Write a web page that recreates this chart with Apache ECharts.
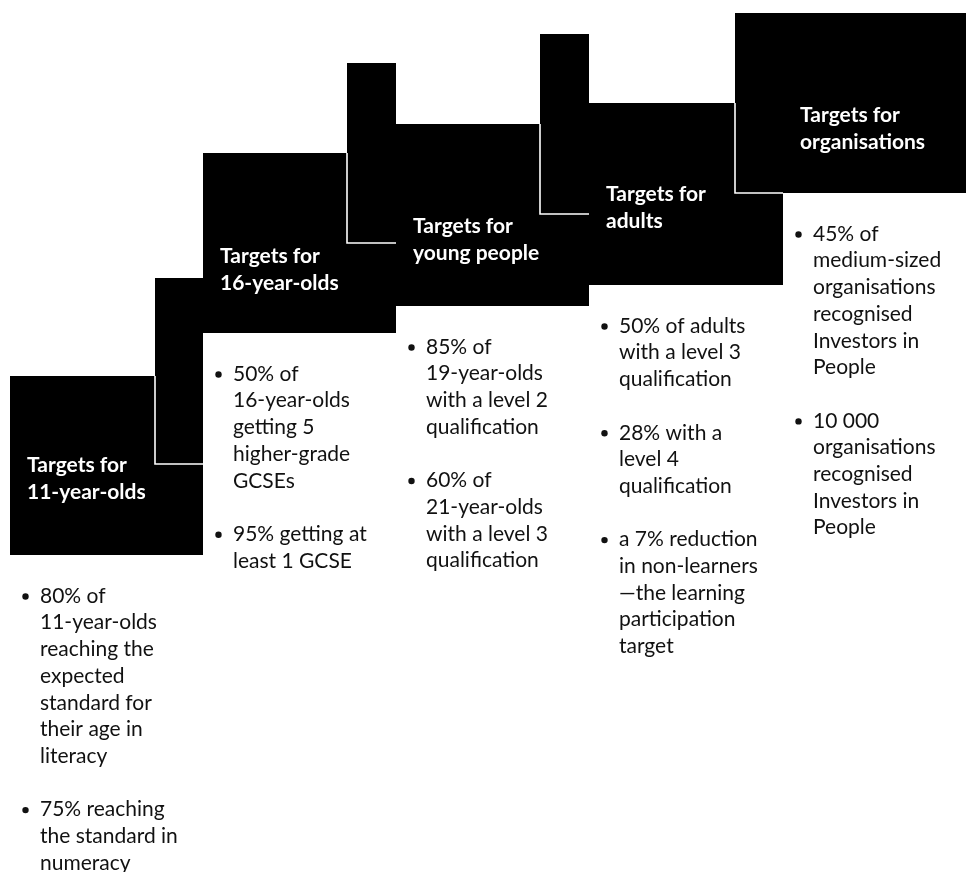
<!DOCTYPE html>
<html>
<head>
<meta charset="utf-8">
<script src="https://cdn.jsdelivr.net/npm/echarts@6/dist/echarts.min.js"></script>
<style>
  html, body { margin: 0; padding: 0; background: #fff; }
  #main { width: 966px; height: 872px; }
</style>
</head>
<body>
<div id="main"></div>
<script>
// stages of the staircase, left to right
var stageLabels = [
    'Targets for\n11-year-olds',
    'Targets for\n16-year-olds',
    'Targets for\nyoung people',
    'Targets for\nadults',
    'Targets for\norganisations'
];

// black step blocks (diagram units)
var blockLeft   = [10, 203, 396, 589, 783];
var blockRight  = [203, 396, 589, 783, 966];
var blockTop    = [376, 153, 124, 103, 13];
var blockBottom = [555, 333, 306, 285, 193];

// narrow risers joining each step to the one before
var riserLeft   = [null, 155, 347, 540, 735];
var riserTop    = [null, 278, 63, 34, 13];
var riserBottom = [null, 464, 243, 214, 193];

// middle of each block's two-line label
var labelY = [479, 270, 240, 208, 129];

// bullet points under each step
var bullets = [
    [
        ['80% of', '11-year-olds', 'reaching the', 'expected', 'standard for', 'their age in', 'literacy'],
        ['75% reaching', 'the standard in', 'numeracy']
    ],
    [
        ['50% of', '16-year-olds', 'getting 5', 'higher-grade', 'GCSEs'],
        ['95% getting at', 'least 1 GCSE']
    ],
    [
        ['85% of', '19-year-olds', 'with a level 2', 'qualification'],
        ['60% of', '21-year-olds', 'with a level 3', 'qualification']
    ],
    [
        ['50% of adults', 'with a level 3', 'qualification'],
        ['28% with a', 'level 4', 'qualification'],
        ['a 7% reduction', 'in non-learners', '\u2014the learning', 'participation', 'target']
    ],
    [
        ['45% of', 'medium-sized', 'organisations', 'recognised', 'Investors in', 'People'],
        ['10 000', 'organisations', 'recognised', 'Investors in', 'People']
    ]
];

var LINE = 26.7;
var bodyFont = '21px Lato, sans-serif';
var headFont = 'bold 21px Lato, sans-serif';

var myChart = echarts.init(document.getElementById('main'));

function rectFrom(api, x0, y0, x1, y1) {
    var p0 = api.coord([x0, y0]);
    var p1 = api.coord([x1, y1]);
    return { x: p0[0], y: p0[1], width: p1[0] - p0[0], height: p1[1] - p0[1] };
}

function renderBlocks(params, api) {
    var i = api.value(0);
    var children = [];
    children.push({
        type: 'rect',
        shape: rectFrom(api, blockLeft[i], blockTop[i], blockRight[i], blockBottom[i]),
        style: { fill: '#000' }
    });
    if (riserLeft[i] != null) {
        children.push({
            type: 'rect',
            shape: rectFrom(api, riserLeft[i], riserTop[i], blockLeft[i], riserBottom[i]),
            style: { fill: '#000' }
        });
    }
    return { type: 'group', children: children };
}

// white outline where a riser sits on the previous block
function renderJoins(params, api) {
    var i = api.value(0);
    var a = api.coord([riserLeft[i], Math.max(riserTop[i], blockTop[i - 1])]);
    var b = api.coord([riserLeft[i], riserBottom[i]]);
    var c = api.coord([blockLeft[i], riserBottom[i]]);
    return {
        type: 'polyline',
        shape: { points: [a, b, c] },
        style: { stroke: '#fff', lineWidth: 1.6, fill: null }
    };
}

function renderText(params, api) {
    var i = api.value(0);
    var children = [];
    var head = api.coord([blockLeft[i], labelY[i]]);
    children.push({
        type: 'text',
        style: {
            text: stageLabels[i], x: head[0] + 17, y: head[1],
            font: headFont, fill: '#fff', lineHeight: 27, verticalAlign: 'middle'
        }
    });
    var row = 0;
    bullets[i].forEach(function (item) {
        var p = api.coord([blockLeft[i], blockBottom[i] + 41 + row * LINE]);
        children.push({
            type: 'circle',
            shape: { cx: p[0] + 15.5, cy: p[1] + 0.5, r: 3.2 },
            style: { fill: '#111' }
        });
        item.forEach(function (line, k) {
            var q = api.coord([blockLeft[i], blockBottom[i] + 41 + (row + k) * LINE]);
            children.push({
                type: 'text',
                style: { text: line, x: q[0] + 30, y: q[1], font: bodyFont, fill: '#111', verticalAlign: 'middle' }
            });
        });
        row += item.length + 1;
    });
    return { type: 'group', children: children };
}

var idx = stageLabels.map(function (s, i) { return [i]; });

var option = {
    backgroundColor: '#fff',
    animation: false,
    grid: { left: 0, right: 0, top: 0, bottom: 0 },
    xAxis: { type: 'value', min: 0, max: 966, show: false },
    yAxis: { type: 'value', min: 0, max: 872, inverse: true, show: false },
    series: [
        { type: 'custom', renderItem: renderBlocks, data: idx, z: 1 },
        { type: 'custom', renderItem: renderJoins, data: idx.slice(1), z: 2 },
        { type: 'custom', renderItem: renderText, data: idx, z: 3 }
    ]
};
myChart.setOption(option);
</script>
</body>
</html>
